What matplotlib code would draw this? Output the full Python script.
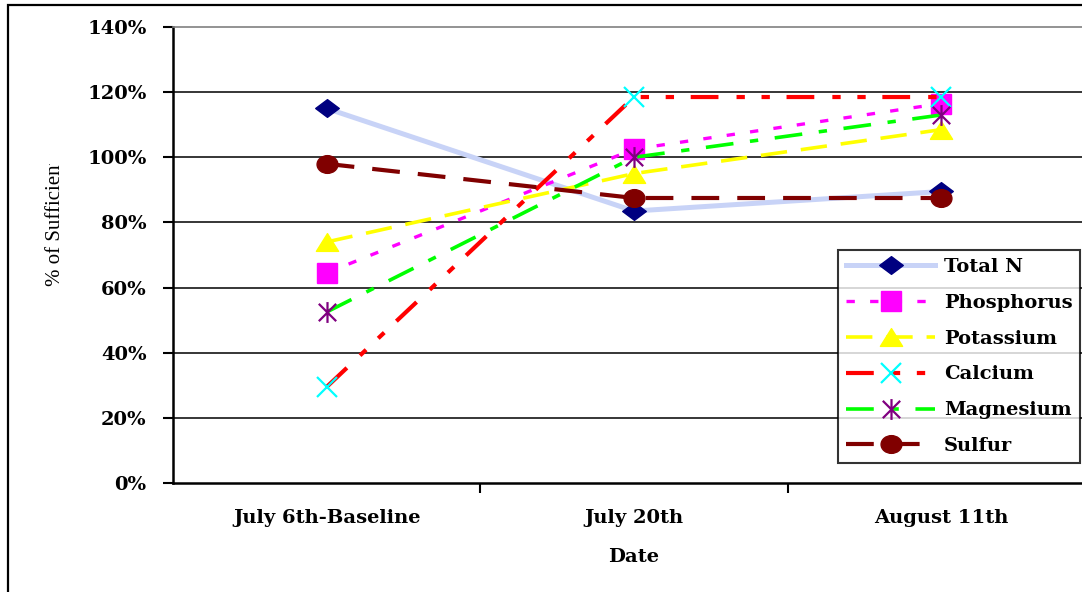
import matplotlib
matplotlib.use("Agg")
import matplotlib.pyplot as plt
from matplotlib.path import Path
from matplotlib.patches import Rectangle
from matplotlib.ticker import FuncFormatter, FixedLocator
from matplotlib.transforms import Bbox
import numpy as np

dates = ["July 6th-Baseline", "July 20th", "August 11th"]
total_n = [1.15, 0.835, 0.895]
phosphorus = [0.645, 1.025, 1.165]
potassium = [0.74, 0.95, 1.085]
calcium = [0.295, 1.185, 1.185]
magnesium = [0.525, 1.0, 1.13]
sulfur = [0.98, 0.875, 0.875]
yticks = [0, 0.2, 0.4, 0.6, 0.8, 1.0, 1.2, 1.4]

plt.rcParams["lines.scale_dashes"] = False
W, H = 1082, 592
fig = plt.figure(figsize=(W / 100, H / 100), dpi=100)

# custom marker shapes (Excel-like)
diamond = Path([(-1, 0), (0, 0.75), (1, 0), (0, -0.75), (-1, 0)], closed=True)
triangle = Path([(0, 0.8), (-1, -0.8), (1, -0.8), (0, 0.8)], closed=True)
star = Path([(-1, -1), (1, 1), (-1, 1), (1, -1), (0, -1.2), (0, 1.2)],
            [Path.MOVETO, Path.LINETO, Path.MOVETO, Path.LINETO, Path.MOVETO, Path.LINETO])
circ = Path.unit_circle()
oval = Path(circ.vertices * np.array([1.0, 0.85]), circ.codes)

ax = fig.add_axes([173 / W, (H - 483) / H, (1095 - 173) / W, (483 - 27) / H])
x = np.arange(len(dates))

ax.plot(x, total_n, color="#C8D3F7", lw=3.6, marker=diamond, ms=17,
        mfc="#000080", mec="#000080", label="Total N", zorder=3)
ax.plot(x, phosphorus, color="#FF00FF", lw=2.4, dashes=(6, 11), marker="s", ms=14,
        mfc="#FF00FF", mec="#FF00FF", label="Phosphorus", zorder=3)
ax.plot(x, potassium, color="#FFFF00", lw=2.6, dashes=(19, 10), marker=triangle, ms=16,
        mfc="#FFFF00", mec="#FFFF00", label="Potassium", zorder=3)
ax.plot(x, calcium, color="#FF0000", lw=3.0, dashes=(20, 13, 6, 12, 6, 12), marker="x", ms=15,
        mew=1.6, mfc="none", mec="#00FFFF", label="Calcium", zorder=3)
ax.plot(x, magnesium, color="#00FF00", lw=2.6, dashes=(20, 12, 6, 12), marker=star, ms=15,
        mew=1.6, mfc="none", mec="#800080", label="Magnesium", zorder=3)
ax.plot(x, sulfur, color="#800000", lw=3.0, dashes=(20, 13), marker=oval, ms=15,
        mfc="#800000", mec="#800000", label="Sulfur", zorder=3)

ax.set_xlim(-0.5, 2.5)
ax.set_ylim(0, 1.4)
ax.yaxis.set_major_locator(FixedLocator(yticks))
ax.yaxis.set_major_formatter(FuncFormatter(lambda v, p: f"{v * 100:.0f}%"))
for v in yticks[1:-1]:
    ax.axhline(v, color="black", lw=1.1, zorder=1)

ax.set_xticks(x)
ax.set_xticklabels(dates)
ax.set_xticks([0.5, 1.5], minor=True)
ax.tick_params(axis="x", which="major", length=0, pad=19)
ax.tick_params(axis="x", which="minor", length=7, width=1.5, direction="out")
ax.tick_params(axis="y", length=7, width=1.5, direction="out", pad=12)

serif_bold = {"family": "DejaVu Serif", "weight": "bold", "size": 14}
for lab in ax.get_xticklabels() + ax.get_yticklabels():
    lab.set_fontfamily("DejaVu Serif")
    lab.set_fontweight("bold")
    lab.set_fontsize(14)

ax.set_xlabel("Date", fontdict=serif_bold, labelpad=15)

for side in ["left", "bottom"]:
    ax.spines[side].set_linewidth(1.8)
ax.spines["top"].set_color("#808080")
ax.spines["top"].set_linewidth(1.2)
ax.spines["right"].set_visible(False)

leg = ax.legend(loc="upper left", bbox_to_anchor=(838 / W, 1 - 250 / H),
                bbox_transform=fig.transFigure, frameon=True, fancybox=False,
                edgecolor="black", handlelength=4.6, handletextpad=0.45,
                labelspacing=0.92, borderpad=0.4, borderaxespad=0,
                prop={"family": "DejaVu Serif", "weight": "bold", "size": 14})
leg.get_frame().set_linewidth(1.5)
leg.set_zorder(5)

ylab = fig.text(55 / W, 1 - 286 / H, "% of Sufficient", rotation=90,
                ha="center", va="bottom", family="Liberation Serif", fontsize=15)
ylab.set_clip_on(True)
ylab.set_clip_box(Bbox.from_extents(0, 0, W, H - 164))

fig.patches.append(Rectangle((8 / W, -0.1), 1.2, 1.1 - 5 / H, transform=fig.transFigure,
                             fill=False, edgecolor="black", lw=1.6))

fig.savefig("out.png", dpi=100)
